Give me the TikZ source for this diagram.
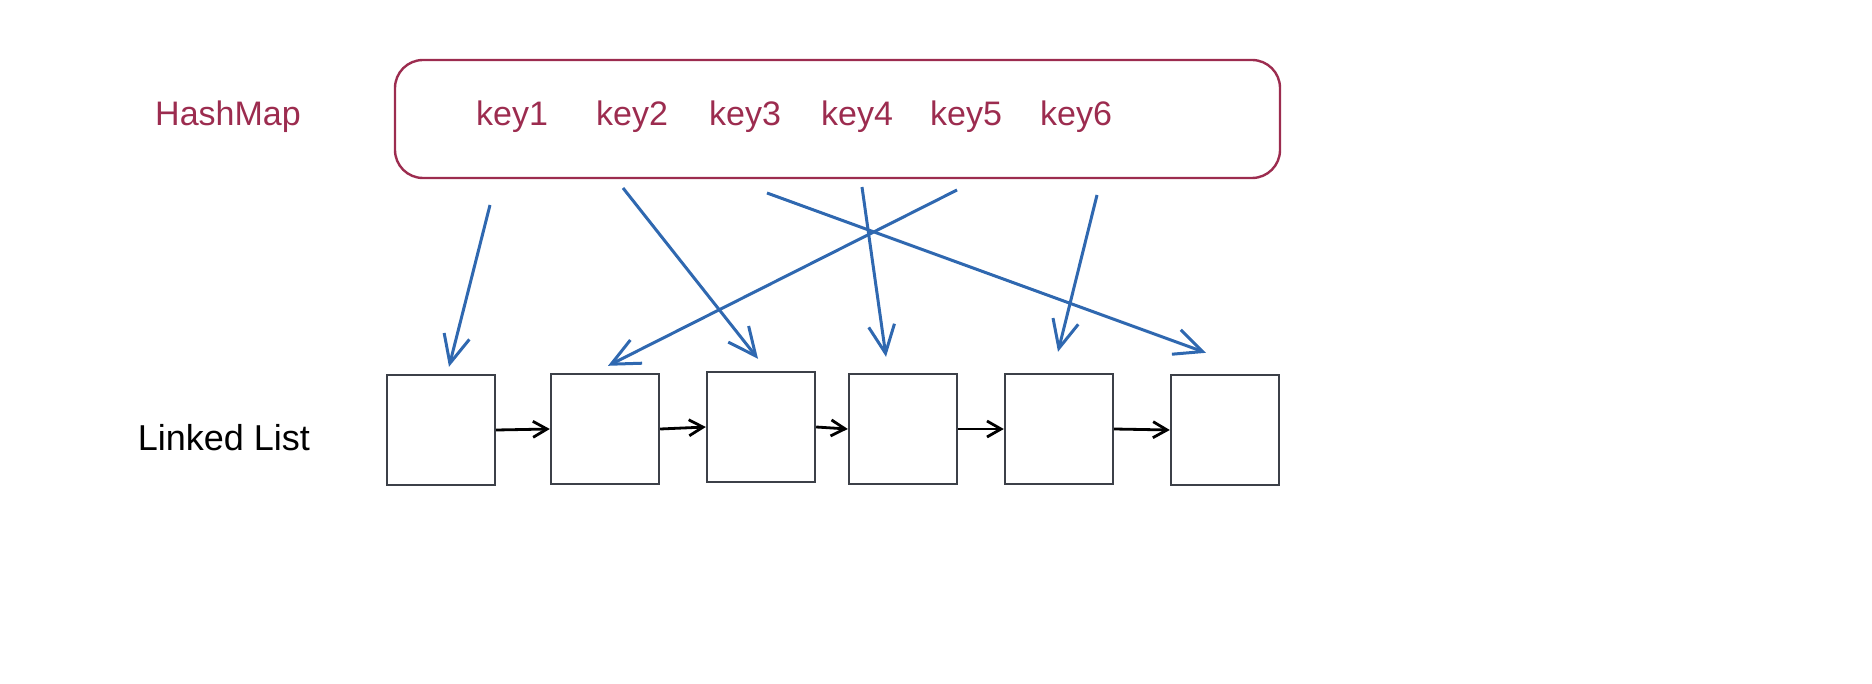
\documentclass[tikz,border=0pt]{standalone}
\usepackage{fontspec}
\setmainfont{Liberation Sans}
\usetikzlibrary{arrows.meta}
\definecolor{crim}{HTML}{9C2C4F}
\definecolor{bluec}{HTML}{2F68B0}
\definecolor{boxc}{HTML}{3C4048}
\tikzset{
  redtxt/.style={text=crim, font=\fontsize{17}{19}\selectfont, inner sep=0pt},
  listbox/.style={draw=boxc, line width=1.2pt, minimum width=54pt, minimum height=55pt, inner sep=0pt},
  hmbox/.style={draw=crim, line width=1.2pt, rounded corners=14pt, minimum width=442.5pt, minimum height=59pt, inner sep=0pt},
  bluearrow/.style={draw=bluec, line width=1.5pt, -{Straight Barb[length=14pt,width=13pt,line width=1.5pt]}},
  linkarrow/.style={draw=black, line width=1.4pt, -{Straight Barb[length=7pt,width=8pt,line width=1.4pt]}},
}
\begin{document}
\begin{tikzpicture}[x=0.5pt,y=-0.5pt]
\useasboundingbox (0,0) rectangle (1872,684);
% hashmap
\node[hmbox] (hm) at (837.5,119) {};
\node[redtxt] (hmlabel) at (228,117) {HashMap};
\node[redtxt] (k1) at (512,117) {key1};
\node[redtxt] (k2) at (632,117) {key2};
\node[redtxt] (k3) at (745,117) {key3};
\node[redtxt] (k4) at (857,117) {key4};
\node[redtxt] (k5) at (966,117) {key5};
\node[redtxt] (k6) at (1076,117) {key6};
% linked list
\node[font=\fontsize{18}{20}\selectfont, inner sep=0pt] (lllabel) at (224,438) {Linked List};
\node[listbox] (b1) at (441,430) {};
\node[listbox] (b2) at (605,429) {};
\node[listbox] (b3) at (761,427) {};
\node[listbox] (b4) at (903,429) {};
\node[listbox] (b5) at (1059,429) {};
\node[listbox] (b6) at (1225,430) {};
\draw[linkarrow] (b1.east) -- (b2.west);
\draw[linkarrow] (b2.east) -- (b3.west);
\draw[linkarrow] (b3.east) -- (b4.west);
\draw[linkarrow] (b4.east) -- (b5.west);
\draw[linkarrow] (b5.east) -- (b6.west);
% start points
\coordinate (s1) at (490,205);
\coordinate (s2) at (623,188);
\coordinate (s3) at (957,190);
\coordinate (s4) at (862,187);
\coordinate (s5) at (1097,195);
\coordinate (s6) at (767,193);
\draw[bluearrow] (s1) -- ([xshift=4pt,yshift=3.5pt]b1.north);
\draw[bluearrow] (s2) -- ([xshift=-1.5pt,yshift=6pt]b3.north);
\draw[bluearrow] (s3) -- ([xshift=1.5pt,yshift=3.5pt]b2.north);
\draw[bluearrow] (s4) -- ([xshift=-8.5pt,yshift=8pt]b4.north);
\draw[bluearrow] (s5) -- ([xshift=-0.5pt,yshift=10.5pt]b5.north);
\draw[bluearrow] (s6) -- ([xshift=-9.5pt,yshift=10.5pt]b6.north);
\end{tikzpicture}
\end{document}
